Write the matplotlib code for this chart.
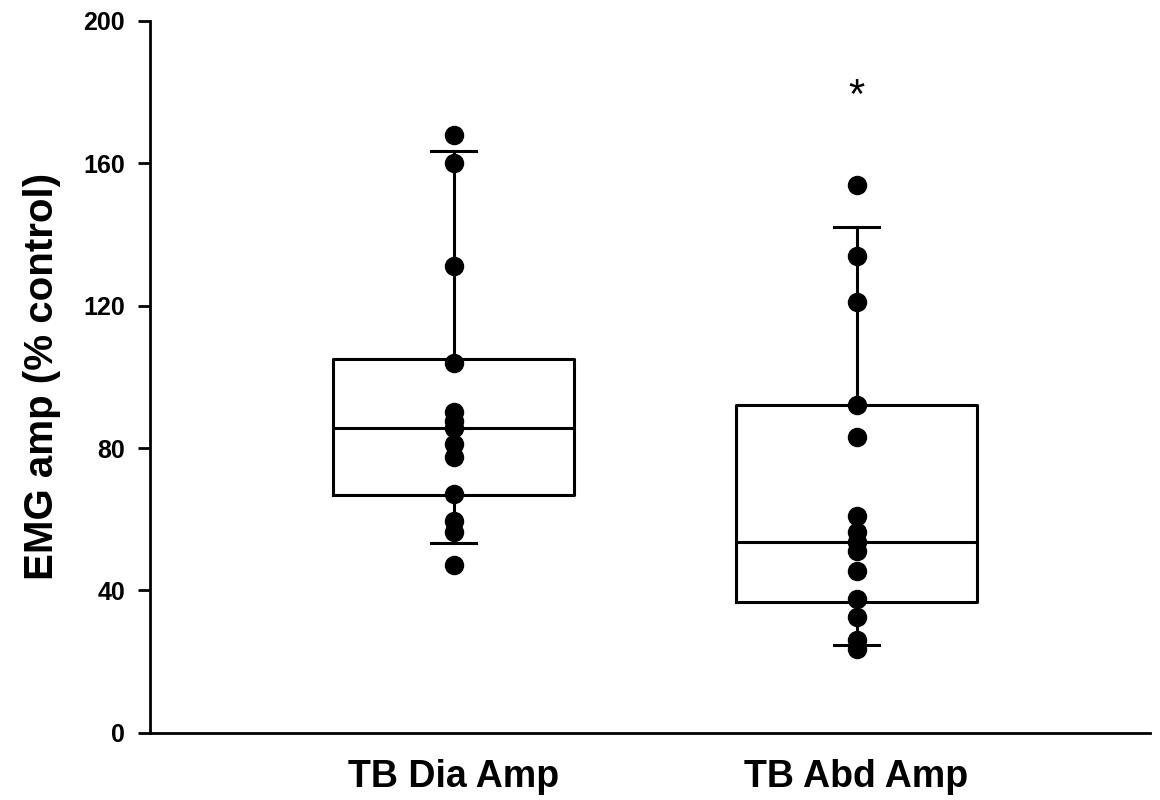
import matplotlib
matplotlib.use("Agg")
import matplotlib.pyplot as plt

plt.rcParams['font.family'] = ['Liberation Sans', 'DejaVu Sans']

# groups and raw points
groups = ["TB Dia Amp", "TB Abd Amp"]
dia_pts = [168, 160, 131, 104, 90, 87.5, 85.5, 81, 77.5, 67, 59.5, 56.5, 47]
abd_pts = [154, 134, 121, 92, 83, 61, 56.5, 53.5, 51, 45.5, 37.5, 32.5, 26, 23.5]

# box statistics (10th/90th percentile whiskers, as drawn)
q1s = [66.8, 36.7]
medians = [85.7, 53.5]
q3s = [105.0, 92.0]
whislo = [53.3, 24.7]
whishi = [163.3, 142.0]

fig = plt.figure(figsize=(11.6, 8.0), dpi=100)
ax = fig.add_axes([0.129, 0.084, 0.862, 0.89])

stats = []
for i in range(len(groups)):
    stats.append(dict(med=medians[i], q1=q1s[i], q3=q3s[i],
                      whislo=whislo[i], whishi=whishi[i], fliers=[]))

lw = 2.2
ax.bxp(stats, positions=[1, 2], widths=0.6, capwidths=0.11, showfliers=False,
       boxprops=dict(color='black', linewidth=lw),
       medianprops=dict(color='black', linewidth=lw),
       whiskerprops=dict(color='black', linewidth=lw),
       capprops=dict(color='black', linewidth=lw))

ax.plot([1] * len(dia_pts), dia_pts, 'o', color='black', markersize=13, zorder=5)
ax.plot([2] * len(abd_pts), abd_pts, 'o', color='black', markersize=13, zorder=5)

ax.text(2, 178.5, '*', ha='center', va='center', fontsize=30)

ax.set_xlim(0.246, 2.727)
ax.set_ylim(0, 200)
ax.set_yticks([0, 40, 80, 120, 160, 200])
ax.set_xticks([1, 2])
ax.set_xticklabels(groups, fontsize=27, fontweight='bold')
ax.tick_params(axis='x', length=0, pad=19)
ax.tick_params(axis='y', length=8.6, width=2, labelsize=18, pad=9, direction='out')
for lab in ax.get_yticklabels():
    lab.set_fontweight('bold')
ax.set_ylabel('EMG amp (% control)', fontsize=29, fontweight='bold', labelpad=16)

ax.spines['top'].set_visible(False)
ax.spines['right'].set_visible(False)
ax.spines['left'].set_linewidth(2)
ax.spines['bottom'].set_linewidth(2)

plt.savefig('out.png', dpi=100)
